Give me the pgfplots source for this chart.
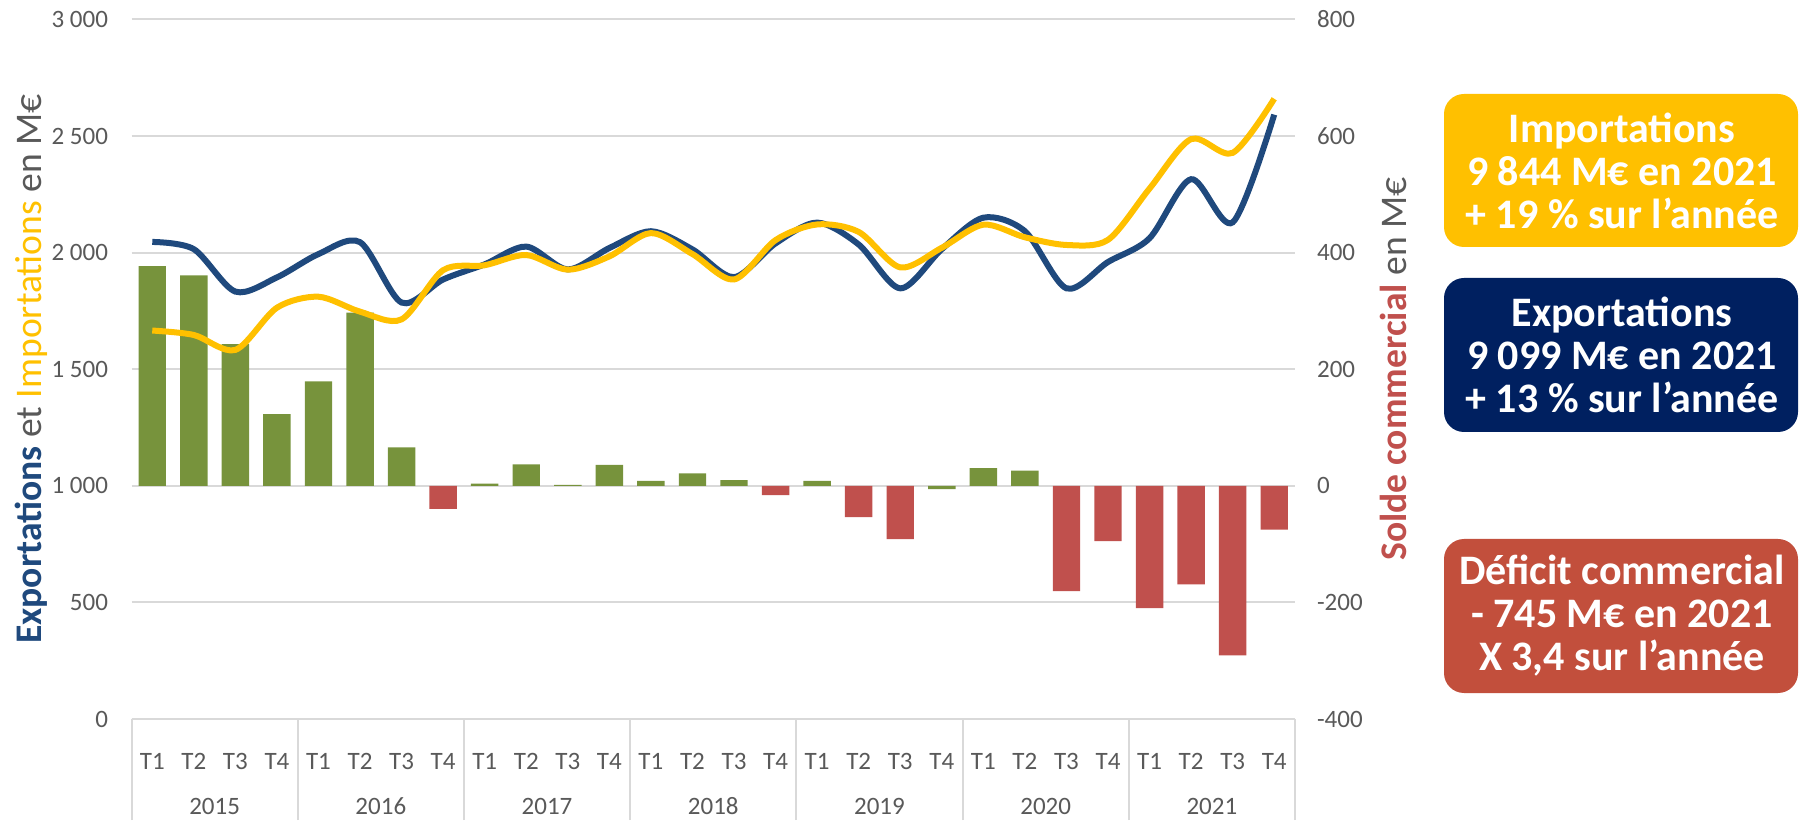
\documentclass[border=0pt]{standalone}
\usepackage{fontspec}
\setmainfont{Carlito}
\usepackage{pgfplots}
\pgfplotsset{compat=1.18}

\definecolor{expBlue}{RGB}{31,73,125}
\definecolor{impYellow}{RGB}{255,192,0}
\definecolor{barGreen}{RGB}{119,147,60}
\definecolor{barRed}{RGB}{192,80,77}
\definecolor{gridGray}{RGB}{217,217,217}
\definecolor{txtGray}{RGB}{89,89,89}
\definecolor{boxNavy}{RGB}{0,32,96}
\definecolor{boxRed}{RGB}{194,79,60}

\pgfplotsset{
  base/.style={
    scale only axis, width=581.75pt, height=349.75pt,
    at={(65.75pt,50.5pt)}, anchor=south west,
    xmin=-0.5, xmax=27.5,
    tick label style={font=\fontsize{12.5}{14}\selectfont, text=txtGray},
    major tick length=0pt,
  }
}

\begin{document}
\begin{tikzpicture}
\useasboundingbox (0,0) rectangle (900pt,410pt);

% solde commercial (bars, right axis)
\begin{axis}[base,
    ymin=-400, ymax=800,
    axis x line*=bottom, axis y line*=right,
    x axis line style={draw=gridGray, line width=1pt},
    y axis line style={draw=none},
    ytick={-400,-200,...,800},
    yticklabels={-400,-200,0,200,400,600,800},
    yticklabel style={xshift=7.5pt},
    ymajorgrids, grid style={gridGray, line width=1pt},
    xtick={0,...,27},
    xticklabels={T1,T2,T3,T4,T1,T2,T3,T4,T1,T2,T3,T4,T1,T2,T3,T4,T1,T2,T3,T4,T1,T2,T3,T4,T1,T2,T3,T4},
    xticklabel style={anchor=center, yshift=-21pt},
    extra x ticks={-0.5,3.5,7.5,11.5,15.5,19.5,23.5,27.5},
    extra x tick labels={},
    extra x tick style={major tick length=50.5pt, tick align=outside,
      xmajorgrids=false, tick style={draw=gridGray, line width=1pt}},
    clip=false,
]
\addplot[ybar, bar width=0.66, bar shift=0pt, fill=barGreen, draw=none] coordinates {
  (0,377) (1,361) (2,243) (3,123) (4,179) (5,297) (6,66)
  (8,4) (9,37) (10,1.5) (11,36) (12,8.6) (13,21.5) (14,9.7)
  (16,8.6) (19,-5.7) (20,30.3) (21,26.3)
};
\addplot[ybar, bar width=0.66, bar shift=0pt, fill=barRed, draw=none] coordinates {
  (7,-39.5) (15,-16) (17,-53.7) (18,-91.4) (22,-180.6) (23,-94.9)
  (24,-210) (25,-169) (26,-291) (27,-75)
};
\node[text=txtGray, font=\fontsize{12.5}{14}\selectfont] at (axis cs:1.5,-400) [yshift=-43.5pt] {2015};
\node[text=txtGray, font=\fontsize{12.5}{14}\selectfont] at (axis cs:5.5,-400) [yshift=-43.5pt] {2016};
\node[text=txtGray, font=\fontsize{12.5}{14}\selectfont] at (axis cs:9.5,-400) [yshift=-43.5pt] {2017};
\node[text=txtGray, font=\fontsize{12.5}{14}\selectfont] at (axis cs:13.5,-400) [yshift=-43.5pt] {2018};
\node[text=txtGray, font=\fontsize{12.5}{14}\selectfont] at (axis cs:17.5,-400) [yshift=-43.5pt] {2019};
\node[text=txtGray, font=\fontsize{12.5}{14}\selectfont] at (axis cs:21.5,-400) [yshift=-43.5pt] {2020};
\node[text=txtGray, font=\fontsize{12.5}{14}\selectfont] at (axis cs:25.5,-400) [yshift=-43.5pt] {2021};
\end{axis}

% exportations / importations (lines, left axis)
\begin{axis}[base,
    ymin=0, ymax=3000,
    hide x axis,
    axis y line*=left, y axis line style={draw=none},
    ytick={0,500,...,3000},
    yticklabels={0,500,1 000,1 500,2 000,2 500,3 000},
    yticklabel style={xshift=-8.25pt},
]
\addplot[expBlue, line width=3pt, smooth] coordinates {
  (0,2046) (1,2015) (2,1833) (3,1894) (4,1994) (5,2045) (6,1786) (7,1885)
  (8,1950) (9,2026) (10,1928) (11,2020) (12,2092) (13,2014) (14,1895) (15,2040)
  (16,2129) (17,2035) (18,1847) (19,2015) (20,2150) (21,2092) (22,1847) (23,1960)
  (24,2062) (25,2315) (26,2130) (27,2592)
};
\addplot[impYellow, line width=3pt, smooth] coordinates {
  (0,1666) (1,1647) (2,1583) (3,1764) (4,1811) (5,1747) (6,1714) (7,1925)
  (8,1946) (9,1990) (10,1927) (11,1984) (12,2084) (13,1994) (14,1885) (15,2054)
  (16,2121) (17,2089) (18,1937) (19,2021) (20,2120) (21,2066) (22,2033) (23,2055)
  (24,2275) (25,2487) (26,2428) (27,2660)
};
\end{axis}

% axis titles
\node[rotate=90, font=\fontsize{18.8}{21}\selectfont, text=txtGray] at (15.5pt,225.5pt)
  {\textcolor{expBlue}{\bfseries Exportations} et \textcolor{impYellow}{Importations} en M€};
\node[rotate=90, font=\fontsize{18.8}{21}\selectfont, text=txtGray] at (696.5pt,225.5pt)
  {\textcolor{barRed}{\bfseries Solde commercial} en M€};

% boxes
\fill[impYellow, rounded corners=10pt] (722pt,286.5pt) rectangle (899pt,363pt);
\fill[boxNavy, rounded corners=10pt] (722pt,194pt) rectangle (899pt,271pt);
\fill[boxRed, rounded corners=10pt] (722pt,63.5pt) rectangle (899pt,140.5pt);
\node[align=center, text=white, font=\fontsize{21}{21.5}\selectfont\bfseries] at (811pt,324.75pt)
  {Importations\\9 844 M€ en 2021\\+ 19 \% sur l’année};
\node[align=center, text=white, font=\fontsize{21}{21.5}\selectfont\bfseries] at (811pt,232.5pt)
  {Exportations\\9 099 M€ en 2021\\+ 13 \% sur l’année};
\node[align=center, text=white, font=\fontsize{21}{21.5}\selectfont\bfseries] at (811pt,102pt)
  {Déficit commercial\\- 745 M€ en 2021\\X 3,4 sur l’année};
\end{tikzpicture}
\end{document}
